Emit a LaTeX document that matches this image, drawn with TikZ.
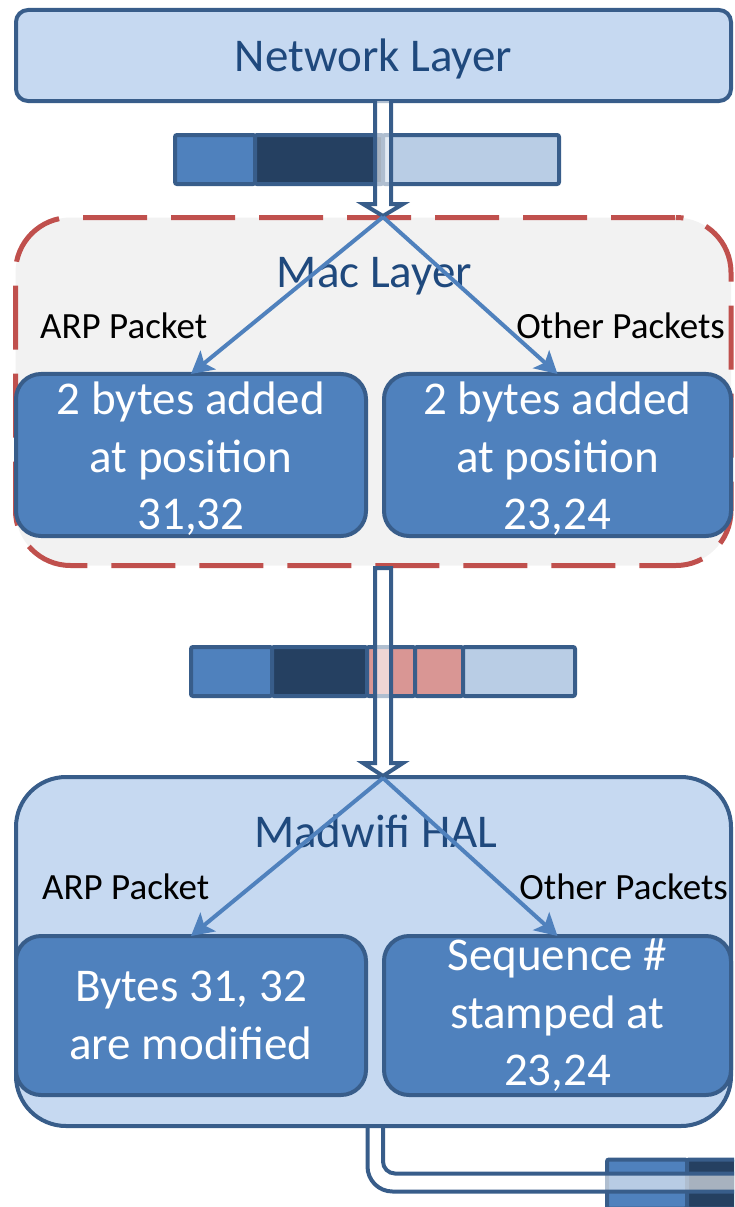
\documentclass[tikz,border=0pt]{standalone}
\usepackage{fontspec}
\setmainfont{Carlito}
\usetikzlibrary{arrows.meta}
\definecolor{edge}{HTML}{385D8A}
\definecolor{layerfill}{HTML}{C6D9F1}
\definecolor{boxfill}{HTML}{4F81BD}
\definecolor{navy}{HTML}{254061}
\definecolor{paleblue}{HTML}{B9CDE5}
\definecolor{pinkseg}{HTML}{D99694}
\definecolor{dashred}{HTML}{C0504D}
\definecolor{macfill}{HTML}{F2F2F2}
\definecolor{titleblue}{HTML}{1F497D}
\newcommand\bigfnt{\fontsize{47}{57.5}\selectfont}
\newcommand\lblfnt{\fontsize{37}{45}\selectfont}
\begin{document}
\begin{tikzpicture}[x=1pt,y=-1pt,
  layerbox/.style={draw=edge, fill=layerfill, line width=4pt, inner sep=0pt, outer sep=0pt},
  macframe/.style={draw=dashred, fill=macfill, line width=5pt, dash pattern=on 64pt off 24pt, dash phase=87pt, rounded corners=55pt, inner sep=0pt, outer sep=0pt},
  procbox/.style={draw=edge, fill=boxfill, line width=4pt, rounded corners=25pt, text=white, align=center, font=\bigfnt, inner sep=0pt, outer sep=0pt},
  titletext/.style={text=titleblue, font=\bigfnt, inner sep=0pt},
  lbl/.style={text=black, font=\lblfnt, inner sep=0pt},
  seg/.style={draw=edge, line width=4pt, rounded corners=2pt, inner sep=0pt, outer sep=0pt, minimum height=49pt, anchor=west},
  branch/.style={draw=boxfill, line width=4pt, -{Stealth[length=22pt,width=24pt,inset=5pt]}},
  pipeline/.style={draw=edge, line width=4pt, line join=miter},
  pipefill/.style={fill=white, fill opacity=0.6},
]
\useasboundingbox (0,0) rectangle (734,1207);
\clip (0,0) rectangle (734,1207);

% Mac layer frame
\node[macframe, minimum width=715.5pt, minimum height=348pt] (mac) at (373.25,391.5) {};

% packet bars
\node[seg, fill=boxfill, minimum width=80pt] (t1) at (175,159.5) {};
\node[seg, fill=navy, minimum width=128pt] (t2) at (t1.east) {};
\node[seg, fill=paleblue, minimum width=176pt] (t3) at (t2.east) {};

\node[seg, fill=boxfill, minimum width=81pt] (m1) at (191,671.5) {};
\node[seg, fill=navy, minimum width=95pt] (m2) at (m1.east) {};
\node[seg, fill=pinkseg, minimum width=48pt] (m3) at (m2.east) {};
\node[seg, fill=pinkseg, minimum width=48pt] (m4) at (m3.east) {};
\node[seg, fill=paleblue, minimum width=112pt] (m5) at (m4.east) {};

\node[seg, fill=boxfill, minimum width=80pt] (b1) at (607,1184) {};
\node[seg, fill=navy, minimum width=128pt] (b2) at (b1.east) {};
\node[seg, fill=paleblue, minimum width=176pt] (b3) at (b2.east) {};

% bottom pipe
\coordinate (p3a) at (367.5,1110);
\coordinate (p3b) at (383,1110);
\path[pipefill] (p3a) -- (367.5,1166.5) arc[start angle=180,end angle=90,radius=25] -- (760,1191.5) -- (760,1173.5) -- (395,1173.5) arc[start angle=90,end angle=180,radius=12] -- (p3b) -- cycle;
\draw[pipeline] (p3a) -- (367.5,1166.5) arc[start angle=180,end angle=90,radius=25] -- (760,1191.5);
\draw[pipeline] (760,1173.5) -- (395,1173.5) arc[start angle=90,end angle=180,radius=12] -- (p3b);

% HAL layer box
\node[layerbox, rounded corners=50pt, minimum width=715pt, minimum height=349pt] (hal) at (373.5,951.5) {};

% Network layer box
\node[layerbox, rounded corners=12pt, minimum width=715pt, minimum height=91pt, text=titleblue, font=\bigfnt, text depth=0pt] (net) at (373.5,55.5) {Network Layer};

% top pipe
\coordinate (split1) at (383,217);
\path[pipefill] (375,101) -- (375,204) -- (363,204) -- (383,216) -- (403,204) -- (391,204) -- (391,101) -- cycle;
\draw[pipeline] (375,101) -- (375,204) -- (363,204) -- (383,216) -- (403,204) -- (391,204) -- (391,101);

% middle pipe
\coordinate (split2) at (383,778);
\path[pipefill] (375,568) -- (375,763) -- (363,763) -- (383,776) -- (403,763) -- (391,763) -- (391,568) -- cycle;
\draw[pipeline] (375,568) -- (375,763) -- (363,763) -- (383,776) -- (403,763) -- (391,763) -- (391,568) -- cycle;

% process boxes
\node[procbox, minimum width=350pt, minimum height=160pt] (arp1) at (191,455) {\rule{0pt}{41pt}2 bytes added\\at position\\31,32};
\node[procbox, minimum width=347pt, minimum height=160pt] (oth1) at (557.5,455) {\rule{0pt}{41pt}2 bytes added\\at position\\23,24};
\node[procbox, minimum width=350pt, minimum height=159pt] (arp2) at (191,1015.5) {Bytes 31, 32\\are modified};
\node[procbox, minimum width=347pt, minimum height=159pt] (oth2) at (557.5,1015.5) {Sequence \#\\stamped at\\23,24};

% titles and labels
\node[titletext, anchor=base] (mactitle) at (374.5,287) {Mac Layer};
\node[titletext, anchor=base] (haltitle) at (376,847) {Madwifi HAL};
\node[lbl, anchor=base west] (arplbl1) at (40,338) {ARP Packet};
\node[lbl, anchor=base east] (othlbl1) at (725,338) {Other Packets};
\node[lbl, anchor=base west] (arplbl2) at (42,899) {ARP Packet};
\node[lbl, anchor=base east] (othlbl2) at (728,899) {Other Packets};

% branch arrows
\draw[branch] (split1) -- (arp1.north);
\draw[branch] (split1) -- (oth1.north);
\draw[branch] (split2) -- (arp2.north);
\draw[branch] (split2) -- (oth2.north);
\end{tikzpicture}
\end{document}
